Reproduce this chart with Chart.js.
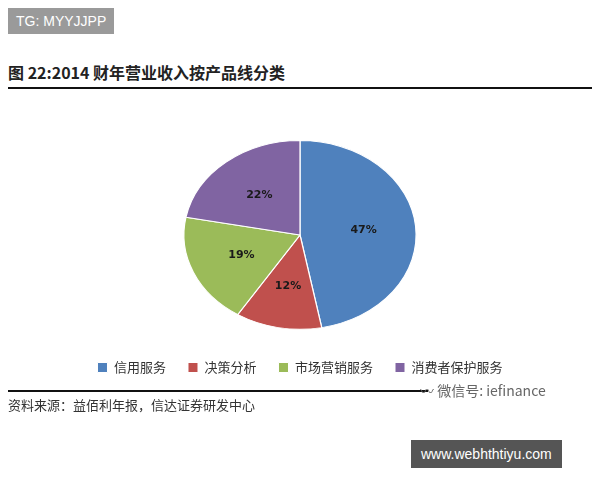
<!DOCTYPE html>
<html>
<head>
<meta charset="utf-8">
<script src="https://cdn.jsdelivr.net/npm/chart.js@4"></script>
<style>
body { margin: 0; width: 600px; height: 480px; background: #fff; position: relative; overflow: hidden;
       font-family: "Noto Sans CJK SC", sans-serif; }
.tag { position: absolute; left: 8px; top: 8px; background: #9a9a9a; color: #fff; font: 14px "Liberation Sans", sans-serif; padding: 5px 8px; }
.title { position: absolute; left: 8px; top: 60px; font-size: 16px; font-weight: bold; color: #222; }
.rule1 { position: absolute; left: 8px; width: 584px; top: 87px; height: 2px; background: #111; }
.rule2 { position: absolute; left: 8px; width: 420px; top: 390px; height: 2px; background: #111; }
.src { position: absolute; left: 8px; top: 395px; font-size: 13px; color: #333; font-family: "Noto Sans CJK SC", serif; }
.wx { position: absolute; left: 420px; top: 380px; font-size: 14px; color: #666; }
.site { position: absolute; left: 411px; top: 440px; background: #555; color: #fff; font: 14px "Liberation Sans", sans-serif; padding: 6px 10px; }
#wrap { position: absolute; left: 0; top: 120px; width: 600px; height: 274px; }
</style>
</head>
<body>
<div class="tag">TG: MYYJJPP</div>
<div class="title">图 22:2014 财年营业收入按产品线分类</div>
<div class="rule1"></div>
<div id="wrap"><canvas id="c"></canvas></div>
<div class="rule2"></div>
<div class="wx">〰 微信号: iefinance</div>
<div class="src">资料来源：益佰利年报，信达证券研发中心</div>
<div class="site">www.webhthtiyu.com</div>
<script>
var categories = ['信用服务', '决策分析', '市场营销服务', '消费者保护服务'];
var shares = [47, 12, 19, 22];
var colors = ['#4f81bd', '#c0504d', '#9bbb59', '#8064a2'];

var STRETCH = 1.23;

// squash the circular pie into the ellipse seen in the original
var ellipse = {
    id: 'ellipse',
    beforeDatasetsDraw: function (chart) {
        var arc = chart.getDatasetMeta(0).data[0];
        var ctx = chart.ctx;
        ctx.save();
        ctx.translate(arc.x, arc.y);
        ctx.scale(STRETCH, 1);
        ctx.translate(-arc.x, -arc.y);
    },
    afterDatasetsDraw: function (chart) {
        var ctx = chart.ctx;
        ctx.restore();
        var meta = chart.getDatasetMeta(0);
        ctx.save();
        ctx.font = 'bold 11px "DejaVu Sans", sans-serif';
        ctx.fillStyle = '#1a1a1a';
        ctx.textAlign = 'center';
        ctx.textBaseline = 'middle';
        meta.data.forEach(function (arc, i) {
            var p = arc.tooltipPosition();
            var cx = arc.x;
            ctx.fillText(shares[i] + '%', cx + (p.x - cx) * STRETCH * 1.1, arc.y + (p.y - arc.y) * 1.1);
        });
        ctx.restore();
    }
};

new Chart(document.getElementById('c'), {
    type: 'pie',
    data: {
        labels: categories,
        datasets: [{
            data: shares,
            backgroundColor: colors,
            borderColor: '#ffffff',
            borderWidth: 1
        }]
    },
    options: {
        responsive: true,
        maintainAspectRatio: false,
        animation: false,
        layout: { padding: { top: 20, bottom: 10 } },
        plugins: {
            tooltip: { enabled: false },
            legend: {
                position: 'bottom',
                title: { display: true, text: ' ', font: { size: 1 }, padding: { top: 0, bottom: 8 } },
                labels: {
                    boxWidth: 10, boxHeight: 10, padding: 22, color: '#333',
                    font: { size: 13, family: '"Noto Sans CJK SC", sans-serif' }
                }
            }
        }
    },
    plugins: [ellipse]
});
</script>
</body>
</html>
